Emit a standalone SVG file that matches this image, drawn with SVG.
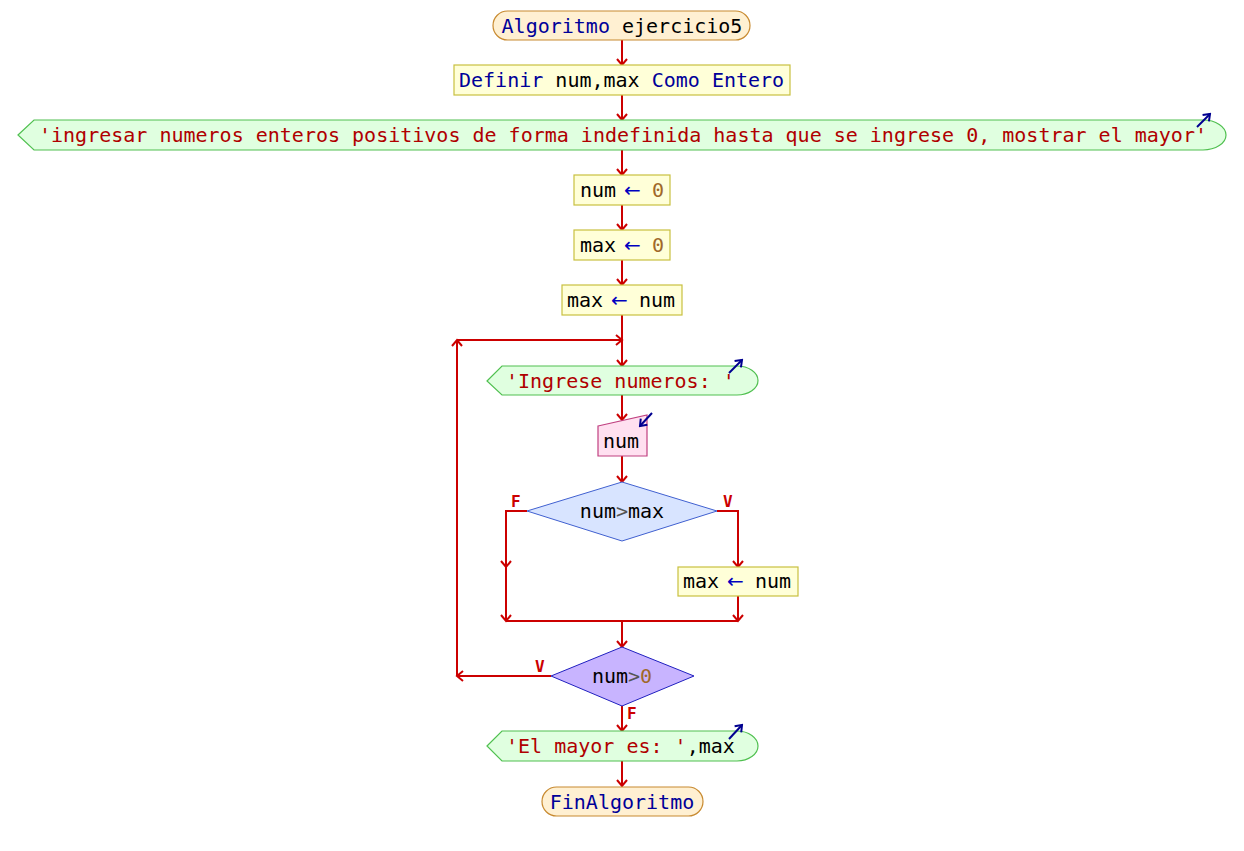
<svg xmlns="http://www.w3.org/2000/svg" width="1244" height="851" viewBox="0 0 1244 851">
<style>
text{font-family:"DejaVu Sans Mono","Liberation Mono",monospace;font-size:20px;fill:#000}
.kw{fill:#000099}
.str{fill:#b00000}
.num{fill:#a0682a}
.op{fill:#555}
.asg{fill:#0000c0;font-family:"DejaVu Sans","Liberation Sans",sans-serif}
.lbl{font-size:16px;font-weight:bold;fill:#cc0000}
.term{fill:#fff0d2;stroke:#c88a30;stroke-width:1.2}
.proc{fill:#ffffd8;stroke:#c8c040;stroke-width:1.2}
.out{fill:#e0ffe0;stroke:#50c050;stroke-width:1.2}
.inp{fill:#ffe0f0;stroke:#c04080;stroke-width:1.2}
.c{fill:none;stroke:#cc0000;stroke-width:2}
.ic{fill:none;stroke:#000090;stroke-width:2}
</style>
<defs>
<marker id="ah" viewBox="-8 -7 10 14" refX="0" refY="0" markerWidth="10" markerHeight="14" orient="auto" markerUnits="userSpaceOnUse">
<path d="M-6,-5 L0,0 L-6,5" fill="none" stroke="#cc0000" stroke-width="2"/>
</marker>
<marker id="bh" viewBox="-8 -7 10 14" refX="0" refY="0" markerWidth="10" markerHeight="14" orient="auto" markerUnits="userSpaceOnUse">
<path d="M-6,-4.5 L0,0 L-6,4.5" fill="none" stroke="#000090" stroke-width="2"/>
</marker>
</defs>
<rect width="1244" height="851" fill="#fff"/>

<g id="connectors">
<line class="c" x1="622" y1="40" x2="622" y2="65" marker-end="url(#ah)"/>
<line class="c" x1="622" y1="95" x2="622" y2="120" marker-end="url(#ah)"/>
<line class="c" x1="622" y1="150" x2="622" y2="175" marker-end="url(#ah)"/>
<line class="c" x1="622" y1="205" x2="622" y2="230" marker-end="url(#ah)"/>
<line class="c" x1="622" y1="260" x2="622" y2="285" marker-end="url(#ah)"/>
<line class="c" x1="622" y1="315" x2="622" y2="366" marker-end="url(#ah)"/>
<line class="c" x1="551" y1="676" x2="457" y2="676" marker-end="url(#ah)"/>
<line class="c" x1="457" y1="676" x2="457" y2="340" marker-end="url(#ah)"/>
<line class="c" x1="457" y1="340" x2="622" y2="340" marker-end="url(#ah)"/>
<line class="c" x1="622" y1="395" x2="622" y2="420" marker-end="url(#ah)"/>
<line class="c" x1="622" y1="456" x2="622" y2="482" marker-end="url(#ah)"/>
<polyline class="c" points="527,511 506,511 506,567" marker-end="url(#ah)"/>
<line class="c" x1="506" y1="567" x2="506" y2="621" marker-end="url(#ah)"/>
<polyline class="c" points="717,511 738,511 738,567" marker-end="url(#ah)"/>
<line class="c" x1="738" y1="596" x2="738" y2="621" marker-end="url(#ah)"/>
<line class="c" x1="506" y1="621" x2="738" y2="621"/>
<line class="c" x1="622" y1="621" x2="622" y2="647" marker-end="url(#ah)"/>
<line class="c" x1="622" y1="706" x2="622" y2="731" marker-end="url(#ah)"/>
<line class="c" x1="622" y1="761" x2="622" y2="786" marker-end="url(#ah)"/>
<text class="lbl" x="511" y="507">F</text>
<text class="lbl" x="723" y="507">V</text>
<text class="lbl" x="535" y="672">V</text>
<text class="lbl" x="627" y="719">F</text>
</g>

<g id="start">
<rect class="term" x="493" y="11" width="257" height="29" rx="14.5" ry="14.5"/>
<text x="622" y="33" text-anchor="middle"><tspan class="kw">Algoritmo</tspan> ejercicio5</text>
</g>

<g id="definir">
<rect class="proc" x="454" y="65" width="336" height="30"/>
<text x="459" y="87"><tspan class="kw">Definir</tspan> num,max <tspan class="kw">Como</tspan> <tspan class="kw">Entero</tspan></text>
</g>

<g id="escribir1">
<path class="out" d="M18,135 L34,120 L1203,120 A23,15 0 0 1 1203,150 L34,150 Z"/>
<text class="str" x="39" y="142">'ingresar numeros enteros positivos de forma indefinida hasta que se ingrese 0, mostrar el mayor'</text>
<line class="ic" x1="1197" y1="127" x2="1210" y2="114" marker-end="url(#bh)"/>
</g>

<g id="asig1">
<rect class="proc" x="574" y="175" width="96" height="30"/>
<text x="580" y="197">num<tspan class="asg" x="624">←</tspan><tspan class="num" x="652">0</tspan></text>
</g>

<g id="asig2">
<rect class="proc" x="574" y="230" width="96" height="30"/>
<text x="580" y="252">max<tspan class="asg" x="624">←</tspan><tspan class="num" x="652">0</tspan></text>
</g>

<g id="asig3">
<rect class="proc" x="562" y="285" width="120" height="30"/>
<text x="567" y="307">max<tspan class="asg" x="611">←</tspan><tspan x="639">num</tspan></text>
</g>

<g id="escribir2">
<path class="out" d="M487,381 L502,366 L737,366 A21,14.5 0 0 1 737,395 L502,395 Z"/>
<text class="str" x="506" y="388">'Ingrese numeros: '</text>
<line class="ic" x1="729" y1="373" x2="742" y2="360" marker-end="url(#bh)"/>
</g>

<g id="leer">
<path class="inp" d="M598,426 L647,415 L647,456 L598,456 Z"/>
<text x="603" y="448">num</text>
<line class="ic" x1="652" y1="413" x2="640" y2="426" marker-end="url(#bh)"/>
</g>

<g id="si">
<polygon points="622,482 717,511 622,541 527,511" fill="#d8e4ff" stroke="#4060d0" stroke-width="1"/>
<text x="622" y="518" text-anchor="middle">num<tspan class="op">&gt;</tspan>max</text>
</g>

<g id="asig4">
<rect class="proc" x="678" y="567" width="120" height="29"/>
<text x="683" y="588">max<tspan class="asg" x="727">←</tspan><tspan x="755">num</tspan></text>
</g>

<g id="mientras">
<polygon points="622,647 694,676 622,706 551,676" fill="#c8b4ff" stroke="#2020c0" stroke-width="1"/>
<text x="622" y="683" text-anchor="middle">num<tspan class="op">&gt;</tspan><tspan class="num">0</tspan></text>
</g>

<g id="escribir3">
<path class="out" d="M487,746 L502,731 L737,731 A21,15 0 0 1 737,761 L502,761 Z"/>
<text x="506" y="753"><tspan class="str">'El mayor es: '</tspan>,max</text>
<line class="ic" x1="729" y1="739" x2="742" y2="725" marker-end="url(#bh)"/>
</g>

<g id="fin">
<rect class="term" x="542" y="787" width="161" height="29" rx="14.5" ry="14.5"/>
<text class="kw" x="622" y="809" text-anchor="middle">FinAlgoritmo</text>
</g>
</svg>
